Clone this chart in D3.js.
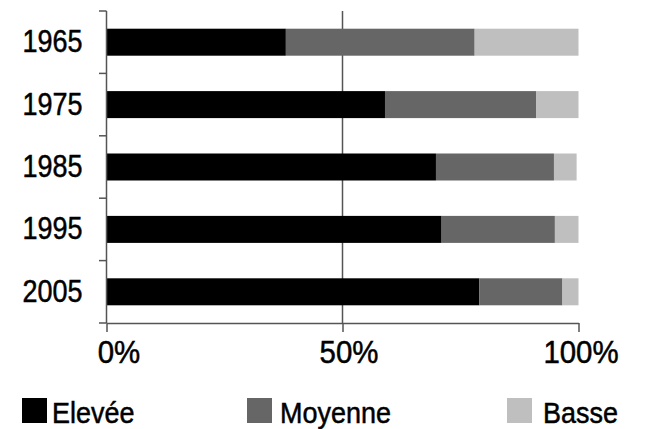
<!DOCTYPE html>
<html>
<head>
<meta charset="utf-8">
<script src="https://cdn.jsdelivr.net/npm/d3@7"></script>
<style>
    body { margin: 0; background: #fff; }
    svg { display: block; }
    text { font-family: "Liberation Sans", Arial, sans-serif; fill: #000; stroke: #000; stroke-width: 0.5; }
    .axis line, .axis path { stroke: #555; stroke-width: 1.5; }
</style>
</head>
<body>
<svg id="graphSVG" width="646" height="429"></svg>
<script>
// Data
const years = ["1965", "1975", "1985", "1995", "2005"];
const seriesNames = ["Elevée", "Moyenne", "Basse"];
const elevee = [38, 59, 69.8, 71, 79];
const moyenne = [40, 32, 25, 24, 17.6];
const basse = [22, 9, 4.8, 5, 3.4];
const xTicks = [0, 50, 100];

const colors = ["#000000", "#666666", "#bfbfbf"];

const rows = years.map((y, i) => ({ year: y, "Elevée": elevee[i], "Moyenne": moyenne[i], "Basse": basse[i] }));
const stacked = d3.stack().keys(seriesNames)(rows);

const svg = d3.select('svg');

const plotLeft = 106.5, plotRight = 578.5;
const plotTop = 11, plotBottom = 323;

// no narrow font installed, so squeeze the text horizontally
function squeeze(sel, k) {
    sel.each(function () {
        const t = d3.select(this);
        const x = +t.attr('x') || 0;
        t.attr('x', x / k).attr('transform', `scale(${k},1)`);
    });
}

const xScale = d3.scaleLinear()
    .domain([0, 100])
    .range([plotLeft, plotRight]);

const pad = 1 - 27 / ((plotBottom - plotTop) / years.length);
const yScale = d3.scaleBand()
    .domain(years)
    .range([plotTop, plotBottom])
    .paddingInner(pad)
    .paddingOuter(pad / 2);

// 50% line
svg.append('line')
    .attr('x1', xScale(50))
    .attr('x2', xScale(50))
    .attr('y1', plotTop)
    .attr('y2', plotBottom)
    .attr('stroke', '#555')
    .attr('stroke-width', 1.5);

// bars
svg.append('g')
    .selectAll('g')
    .data(stacked)
    .enter()
    .append('g')
    .attr('fill', (d, i) => colors[i])
    .selectAll('rect')
    .data(d => d)
    .enter()
    .append('rect')
    .attr('x', d => xScale(d[0]))
    .attr('width', d => xScale(d[1]) - xScale(d[0]))
    .attr('y', d => yScale(d.data.year))
    .attr('height', yScale.bandwidth());

// y axis: labels only
const yAxis = svg.append('g')
    .attr('class', 'axis')
    .attr('transform', `translate(${plotLeft}, 0)`)
    .call(d3.axisLeft(yScale).tickSize(0).tickPadding(24));
yAxis.select('.domain').remove();
yAxis.selectAll('text')
    .attr('font-family', null)
    .attr('font-size', 31)
    .attr('dy', '0.32em')
    .call(squeeze, 0.87);

// y axis line and boundary ticks
const yLines = svg.append('g').attr('class', 'axis');
yLines.append('line')
    .attr('x1', plotLeft).attr('x2', plotLeft)
    .attr('y1', plotTop).attr('y2', plotBottom);
yLines.selectAll('.bound')
    .data(d3.range(years.length + 1))
    .enter()
    .append('line')
    .attr('x1', plotLeft - 7.5).attr('x2', plotLeft)
    .attr('y1', i => plotTop + i * yScale.step())
    .attr('y2', i => plotTop + i * yScale.step());

// x axis
const tickNudge = [12, 6, 2];
const xAxis = svg.append('g')
    .attr('class', 'axis')
    .attr('transform', `translate(0, ${plotBottom})`)
    .call(d3.axisBottom(xScale)
        .tickValues(xTicks)
        .tickFormat(d => d + '%')
        .tickSize(9)
        .tickSizeOuter(0)
        .tickPadding(8));
xAxis.selectAll('text')
    .attr('font-family', null)
    .attr('font-size', 32)
    .attr('x', (d, i) => tickNudge[i])
    .attr('dy', '0.72em')
    .call(squeeze, 0.92);

// legend
const legendX = [22, 247, 507];
const legendGap = [30, 33, 36];
const legend = svg.append('g')
    .attr('class', 'legend')
    .selectAll('g')
    .data(seriesNames)
    .enter()
    .append('g')
    .attr('transform', (d, i) => `translate(${legendX[i]}, 398)`);

legend.append('rect')
    .attr('width', 25)
    .attr('height', 25)
    .attr('fill', (d, i) => colors[i]);

legend.append('text')
    .attr('x', (d, i) => legendGap[i])
    .attr('y', 25)
    .attr('font-size', 29)
    .text(d => d)
    .call(squeeze, 0.93);
</script>
</body>
</html>
